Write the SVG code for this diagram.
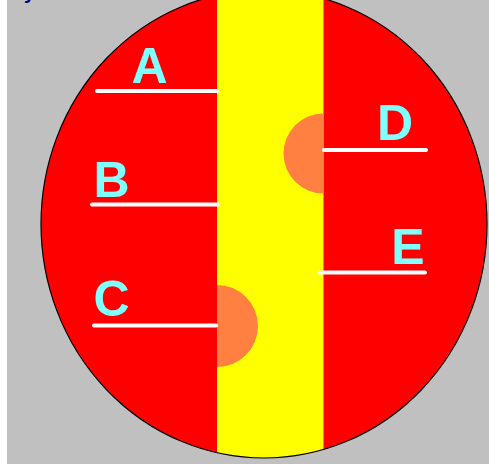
<svg xmlns="http://www.w3.org/2000/svg" width="489" height="465" viewBox="0 0 489 465">
  <style>
    .lbl { font-family: "Liberation Sans", Arial, sans-serif; font-weight: bold; font-size: 50px; fill: #80ffff; text-anchor: middle; }
    .ln { stroke: #ffffff; stroke-width: 4; stroke-linecap: round; fill: none; }
  </style>
  <defs>
    <clipPath id="disc">
      <ellipse cx="264" cy="224" rx="223" ry="234"/>
    </clipPath>
    <clipPath id="band">
      <rect x="217" y="-20" width="106.5" height="500"/>
    </clipPath>
  </defs>
  <rect x="0" y="0" width="489" height="465" fill="#ffffff"/>
  <rect x="7" y="0" width="482" height="464" fill="#c0c0c0"/>
  <text x="24" y="-1" font-family="Liberation Sans, Arial, sans-serif" font-weight="bold" font-size="20" fill="#000080">y</text>
  <g id="disc-shape">
    <ellipse cx="264" cy="224" rx="223" ry="234" fill="#ff0000"/>
    <g clip-path="url(#disc)">
      <rect x="217" y="-20" width="106.5" height="500" fill="#ffff00"/>
      <g clip-path="url(#band)" fill="#ff8040">
        <circle cx="323.5" cy="153.5" r="40"/>
        <circle cx="217" cy="326" r="41"/>
      </g>
    </g>
    <ellipse cx="264" cy="224" rx="223" ry="234" fill="none" stroke="#000000" stroke-width="1.2"/>
  </g>
  <g id="connectors">
    <line class="ln" x1="97" y1="91" x2="217" y2="91"/>
    <line class="ln" x1="92" y1="204.5" x2="218" y2="204.5"/>
    <line class="ln" x1="94" y1="325.5" x2="216" y2="325.5"/>
    <line class="ln" x1="324" y1="150" x2="426" y2="150"/>
    <line class="ln" x1="320" y1="272.5" x2="425" y2="272.5"/>
  </g>
  <g id="label-A"><text class="lbl" x="149.5" y="83">A</text></g>
  <g id="label-B"><text class="lbl" x="111.5" y="196.5">B</text></g>
  <g id="label-C"><text class="lbl" x="111.5" y="315.5">C</text></g>
  <g id="label-D"><text class="lbl" x="395" y="140">D</text></g>
  <g id="label-E"><text class="lbl" x="408" y="264">E</text></g>
</svg>
